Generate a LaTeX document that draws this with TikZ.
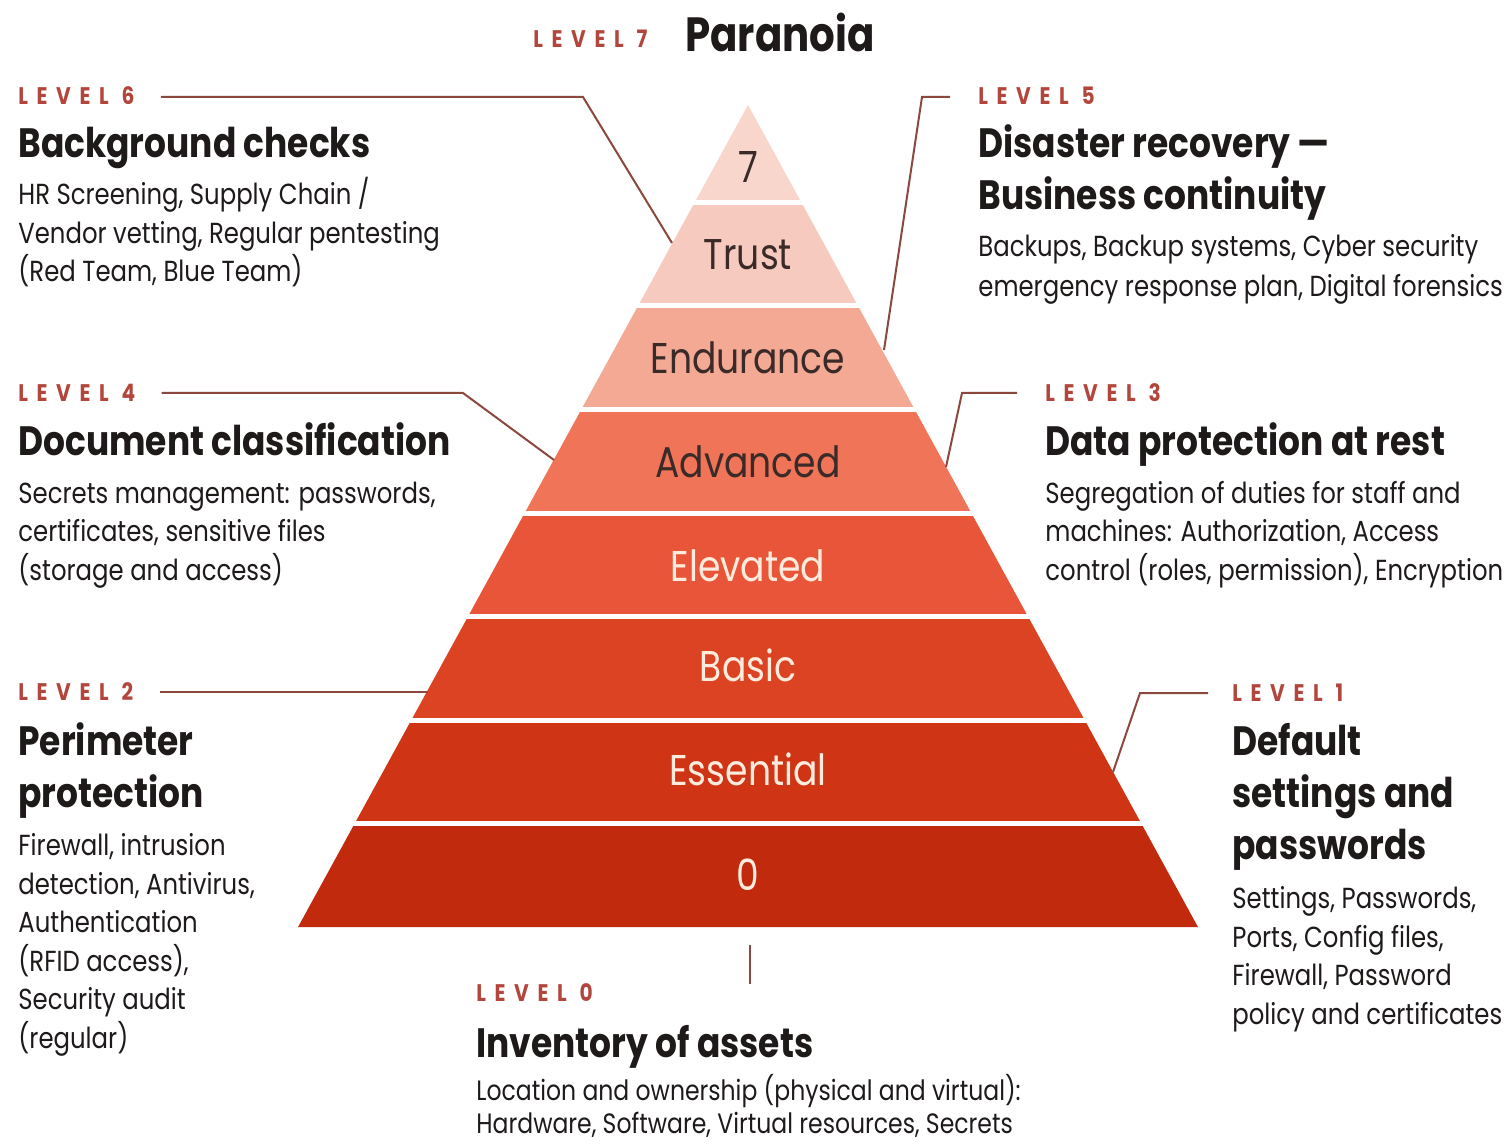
\documentclass[tikz,border=0pt]{standalone}
\usepackage{fontspec}
\setmainfont{Poppins}[FakeStretch=0.84]
\usepackage{xcolor}
\usepackage{tikz}
\usetikzlibrary{positioning, calc}
\definecolor{lvred}{RGB}{178,70,60}
\definecolor{lnred}{RGB}{140,72,62}
\definecolor{mydark}{RGB}{30,26,26}
\definecolor{bandtxt}{RGB}{58,42,40}
\definecolor{creamtxt}{RGB}{253,236,222}
\definecolor{band7}{RGB}{248,214,204}
\definecolor{band6}{RGB}{246,202,190}
\definecolor{band5}{RGB}{244,169,149}
\definecolor{band4}{RGB}{240,116,88}
\definecolor{band3}{RGB}{233,85,56}
\definecolor{band2}{RGB}{220,67,34}
\definecolor{band1}{RGB}{207,53,20}
\definecolor{band0}{RGB}{194,42,14}
\newcommand\lvlfont{\fontsize{12}{14}\selectfont\bfseries\addfontfeature{LetterSpace=36}}
\newcommand\ttlfont{\fontsize{20.5}{26}\selectfont\bfseries}
\newcommand\dscfont{\fontsize{14.5}{19.25}\selectfont}
\newcommand\bandfont{\fontsize{21.5}{24}\selectfont}
\tikzset{
  lvl/.style={font=\lvlfont, text=lvred, inner sep=0pt, anchor=base west},
  ttl/.style={font=\ttlfont, text=mydark, align=left, inner sep=0pt, anchor=base west},
  dsc/.style={font=\dscfont, text=mydark, align=left, inner sep=0pt, anchor=base west},
  bandlbl/.style={font=\bandfont, inner sep=0pt},
  gap/.style={draw=white, line width=2.5pt},
  leader/.style={draw=lnred, line width=1pt}
}

\begin{document}
\begin{tikzpicture}[x=0.5pt, y=-0.5pt]
  \useasboundingbox[fill=white] (0,0) rectangle (1509,1144);
  % Pyramid bands (apex 748/105, base y 927, half width 450)
  \foreach \ya/\yb/\col in {105/203/band7, 203/306/band6, 306/410/band5,
      410/513/band4, 513/616/band3, 616/720/band2, 720/823/band1, 823/927/band0}{
    \pgfmathsetmacro\wa{0.5474*(\ya-105)}
    \pgfmathsetmacro\wb{0.5474*(\yb-105)}
    \fill[\col] (748-\wa,\ya) -- (748+\wa,\ya) -- (748+\wb,\yb) -- (748-\wb,\yb) -- cycle;
  }
  % White gaps between bands
  \foreach \y in {203,306,410,513,616,720,823}{
    \pgfmathsetmacro\w{0.5474*(\y-105)+4}
    \draw[gap] (748-\w,\y) -- (748+\w,\y);
  }
  % Band labels
  \node[bandlbl, text=bandtxt]  (b7)   at (748,167) {7};
  \node[bandlbl, text=bandtxt]  (b6)   at (748,255) {Trust};
  \node[bandlbl, text=bandtxt]  (b5)   at (748,358) {Endurance};
  \node[bandlbl, text=bandtxt]  (b4)   at (748,462) {Advanced};
  \node[bandlbl, text=creamtxt] (b3)   at (748,566) {Elevated};
  \node[bandlbl, text=creamtxt] (b2)   at (748,665) {Basic};
  \node[bandlbl, text=creamtxt] (b1)   at (748,769) {Essential};
  \node[bandlbl, text=creamtxt] (b0)   at (748,875) {0};

  % Level 7 (multi-line nodes sit on the baseline of their last line)
  \node[lvl] (l7) at (533,48) {LEVEL 7};
  \node[ttl, font=\fontsize{24}{28}\selectfont\bfseries] (t7) at (685,52) {Paranoia};

  % Level 6
  \node[lvl] (l6) at (18,105) {LEVEL 6};
  \node[ttl] (t6) at (18,158) {Background checks};
  \node[dsc] (d6) at (18,282) {HR Screening, Supply Chain /\\Vendor vetting, Regular pentesting\\(Red Team, Blue Team)};
  \coordinate (k6) at (583,97);
  \coordinate (e6) at (672,243);
  \draw[leader] ([xshift=13pt]l6.east |- 0,97) -- (k6) -- (e6);

  % Level 5
  \node[lvl] (l5) at (978,105) {LEVEL 5};
  \node[ttl] (t5) at (978,210) {Disaster recovery ---\\Business continuity};
  \node[dsc, font=\fontsize{14.5}{20}\selectfont] (d5) at (978,297) {Backups, Backup systems, Cyber security\\emergency response plan, Digital forensics};
  \coordinate (k5) at (922,97);
  \coordinate (e5) at (884,350);
  \draw[leader] ([xshift=-14pt]l5.west |- 0,97) -- (k5) -- (e5);

  % Level 4
  \node[lvl] (l4) at (18,401) {LEVEL 4};
  \node[ttl] (t4) at (18,455) {Document classification};
  \node[dsc] (d4) at (18,580) {Secrets management: passwords,\\certificates, sensitive files\\(storage and access)};
  \coordinate (k4) at (463,393);
  \coordinate (e4) at (554,460);
  \draw[leader] ([xshift=13pt]l4.east |- 0,393) -- (k4) -- (e4);

  % Level 3
  \node[lvl] (l3) at (1045,401) {LEVEL 3};
  \node[ttl] (t3) at (1045,455) {Data protection at rest};
  \node[dsc] (d3) at (1045,580) {Segregation of duties for staff and\\machines: Authorization, Access\\control (roles, permission), Encryption};
  \coordinate (k3) at (962,393);
  \coordinate (e3) at (946,467);
  \draw[leader] ([xshift=-14pt]l3.west |- 0,393) -- (k3) -- (e3);

  % Level 2
  \node[lvl] (l2) at (18,700) {LEVEL 2};
  \node[ttl] (t2) at (18,807) {Perimeter\\protection};
  \node[dsc] (d2) at (18,1048) {Firewall, intrusion\\detection, Antivirus,\\Authentication\\(RFID access),\\Security audit\\(regular)};
  \coordinate (e2) at (428,692);
  \draw[leader] ([xshift=13pt]l2.east |- 0,692) -- (e2);

  % Level 1
  \node[lvl] (l1) at (1232,701) {LEVEL 1};
  \node[ttl] (t1) at (1232,859) {Default\\settings and\\passwords};
  \node[dsc] (d1) at (1232,1024) {Settings, Passwords,\\Ports, Config files,\\Firewall, Password\\policy and certificates};
  \coordinate (k1) at (1140,693);
  \coordinate (e1) at (1113,772);
  \draw[leader] ([xshift=-12pt]l1.west |- 0,693) -- (k1) -- (e1);

  % Level 0
  \node[lvl] (l0) at (476,1001) {LEVEL 0};
  \node[ttl] (t0) at (476,1057) {Inventory of assets};
  \node[dsc, font=\fontsize{14}{16.5}\selectfont] (d0) at (476,1133) {Location and ownership (physical and virtual):\\Hardware, Software, Virtual resources, Secrets};
  \coordinate (k0) at (750,945);
  \coordinate (e0) at (750,984);
  \draw[leader] (k0) -- (e0);
\end{tikzpicture}
\end{document}
